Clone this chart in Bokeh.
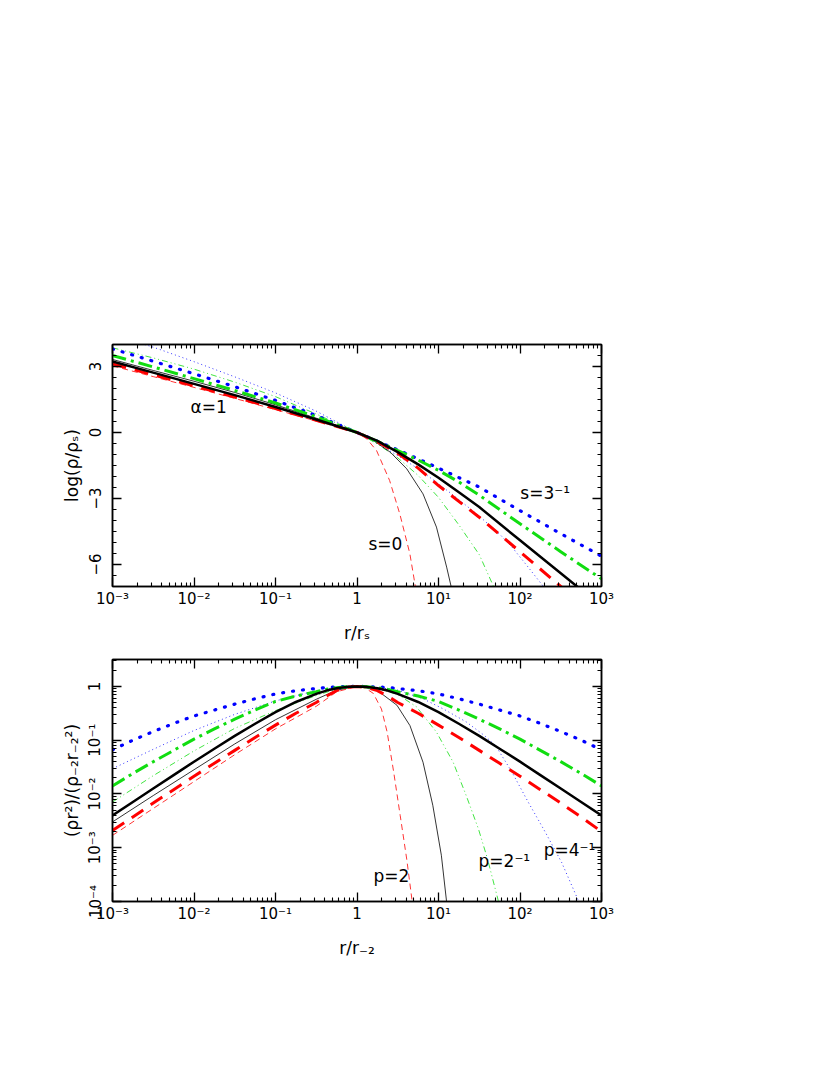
from bokeh.plotting import figure
from bokeh.models import LinearAxis, LogAxis, FixedTicker, CustomJSTickFormatter, ColumnDataSource
from bokeh.layouts import column
from bokeh.embed import file_html
from bokeh.resources import INLINE
from bokeh.core.properties import value

FONT = "DejaVu Sans"

# ---------------- data: top panel  (log10 r/rs , log10 rho/rhos) ----------------
top_black_thick_lx = [-3, -2.5, -2, -1.5, -1, -0.5, 0, 0.25, 0.5, 0.75, 1, 1.25, 1.5, 2, 2.5, 2.8]
top_black_thick_y = [3.23, 2.72, 2.21, 1.70, 1.16, 0.59, 0, -0.38, -0.89, -1.45, -2.06, -2.72, -3.39, -4.9, -6.4, -7.3]
top_red_thick_lx = [-3, -2.5, -2, -1.5, -1, -0.5, 0, 0.25, 0.5, 0.75, 1, 1.5, 2, 2.5, 2.6]
top_red_thick_y = [3.12, 2.62, 2.12, 1.61, 1.09, 0.55, 0, -0.42, -0.94, -1.62, -2.41, -3.85, -5.42, -7.0, -7.32]
top_green_thick_lx = [-3, -2.5, -2, -1.5, -1, -0.5, 0, 0.25, 0.5, 0.75, 1, 1.25, 1.5, 2, 2.5, 3]
top_green_thick_y = [3.5, 2.98, 2.45, 1.91, 1.34, 0.71, 0, -0.4, -0.82, -1.25, -1.72, -2.25, -2.85, -4.15, -5.42, -6.65]
top_blue_thick_lx = [-3, -2.5, -2, -1.5, -1, -0.5, 0, 0.25, 0.5, 0.75, 1, 1.5, 2, 2.5, 3]
top_blue_thick_y = [3.8, 3.24, 2.67, 2.08, 1.46, 0.77, 0, -0.4, -0.79, -1.2, -1.62, -2.48, -3.55, -4.6, -5.62]

top_black_thin_lx = [-3, -2.5, -2, -1.5, -1, -0.5, 0, 0.2, 0.41, 0.61, 0.81, 0.975, 1.1, 1.18]
top_black_thin_y = [3.32, 2.82, 2.33, 1.82, 1.26, 0.65, 0, -0.36, -0.9, -1.65, -2.79, -4.3, -6.12, -7.4]
top_red_thin_lx = [-3, -2.5, -2, -1.5, -1, -0.5, 0, 0.12, 0.24, 0.4, 0.525, 0.648, 0.73]
top_red_thin_y = [3.03, 2.54, 2.05, 1.55, 1.04, 0.52, 0, -0.29, -0.82, -2.18, -3.7, -5.5, -7.3]
top_green_thin_lx = [-3, -2.5, -2, -1.5, -1, -0.5, 0, 0.25, 0.5, 0.75, 1, 1.25, 1.5, 1.7]
top_green_thin_y = [3.85, 3.39, 2.88, 2.29, 1.63, 0.84, 0, -0.52, -1.15, -1.95, -2.95, -4.2, -5.55, -7.2]
top_blue_thin_lx = [-2.7, -2.5, -2, -1.5, -1, -0.5, 0, 0.25, 0.5, 0.75, 1, 1.25, 1.5, 1.75, 1.9, 2.1, 2.33]
top_blue_thin_y = [4.1, 3.88, 3.22, 2.53, 1.80, 0.97, 0, -0.5, -1.05, -1.65, -2.33, -3.05, -3.8, -4.62, -5.2, -6.12, -7.2]

# ---------------- data: bottom panel  (log10 r/r-2 , log10 rho r^2 / rho-2 r-2^2) ----------------
bot_thick_lx = [-3, -2.75, -2.5, -2.25, -2, -1.75, -1.5, -1.25, -1, -0.75, -0.5, -0.375, -0.25, -0.125, 0,
                0.125, 0.25, 0.375, 0.5, 0.75, 1, 1.25, 1.5, 1.75, 2, 2.25, 2.5, 2.75, 3]
bot_blue_thick_ly = [-1.18, -1.0, -0.84, -0.69, -0.55, -0.44, -0.33, -0.23, -0.14, -0.08, -0.04, -0.02, -0.01, -0.003, 0,
                     -0.003, -0.01, -0.02, -0.04, -0.08, -0.14, -0.23, -0.33, -0.44, -0.55, -0.69, -0.84, -1.0, -1.18]
bot_green_thick_ly = [-1.85, -1.62, -1.40, -1.19, -0.98, -0.79, -0.61, -0.44, -0.28, -0.18, -0.1, -0.055, -0.025, -0.006, 0,
                      -0.006, -0.025, -0.055, -0.1, -0.18, -0.28, -0.44, -0.61, -0.79, -0.98, -1.19, -1.40, -1.62, -1.85]
bot_black_thick_ly = [-2.40, -2.15, -1.90, -1.65, -1.40, -1.16, -0.92, -0.695, -0.48, -0.29, -0.14, -0.078, -0.034, -0.009, 0,
                      -0.009, -0.034, -0.078, -0.14, -0.29, -0.48, -0.695, -0.92, -1.16, -1.40, -1.65, -1.90, -2.15, -2.40]
bot_red_thick_ly = [-2.68, -2.43, -2.17, -1.92, -1.67, -1.43, -1.19, -0.95, -0.72, -0.5, -0.3, -0.18, -0.08, -0.02, 0,
                    -0.02, -0.08, -0.18, -0.3, -0.5, -0.72, -0.95, -1.19, -1.43, -1.67, -1.92, -2.17, -2.43, -2.70]

bot_blue_thin_lx = [-3, -2.5, -2, -1.5, -1, -0.5, -0.25, 0, 0.25, 0.5, 0.81, 1.06, 1.34, 1.56, 1.7, 1.9, 2.1, 2.31, 2.51, 2.75]
bot_blue_thin_ly = [-1.53, -1.17, -0.82, -0.52, -0.27, -0.08, -0.02, 0, -0.02, -0.07, -0.23, -0.42, -0.66, -0.91, -1.10, -1.59, -2.15, -2.71, -3.27, -4.1]
bot_green_thin_lx = [-3, -2.5, -2, -1.5, -1, -0.5, -0.25, 0, 0.25, 0.5, 0.73, 0.975, 1.18, 1.34, 1.49, 1.6, 1.77]
bot_green_thin_ly = [-2.15, -1.66, -1.20, -0.78, -0.45, -0.17, -0.05, 0, -0.04, -0.15, -0.38, -0.85, -1.41, -2.03, -2.65, -3.2, -4.2]
bot_black_thin_lx = [-3, -2.5, -2, -1.5, -1, -0.5, -0.25, 0, 0.245, 0.49, 0.65, 0.81, 0.93, 1.035, 1.11]
bot_black_thin_ly = [-2.52, -2.03, -1.55, -1.07, -0.62, -0.24, -0.07, 0, -0.07, -0.35, -0.73, -1.41, -2.21, -3.14, -4.15]
bot_red_thin_lx = [-3, -2.5, -2, -1.5, -1, -0.5, -0.25, 0, 0.1, 0.2, 0.3, 0.37, 0.45, 0.53, 0.61, 0.69]
bot_red_thin_ly = [-2.77, -2.27, -1.77, -1.27, -0.79, -0.37, -0.1, 0, -0.03, -0.13, -0.42, -0.85, -1.59, -2.40, -3.21, -4.15]

# ---------------- ticks / labels ----------------
x_major = [1e-3, 1e-2, 1e-1, 1, 1e1, 1e2, 1e3]
x_labels = ["10\u207b\u00b3", "10\u207b\u00b2", "10\u207b\u00b9", "1", "10\u00b9", "10\u00b2", "10\u00b3"]
top_y_major = [-6, -3, 0, 3]
top_y_labels = ["\u22126", "\u22123", "0", "3"]
bot_y_major = [1e-4, 1e-3, 1e-2, 1e-1, 1]
bot_y_labels = ["10\u207b\u2074", "10\u207b\u00b3", "10\u207b\u00b2", "10\u207b\u00b9", "1"]

top_notes = ["\u03b1=1", "s=0", "s=3\u207b\u00b9"]
top_notes_x = [0.00906, 1.38, 101]
top_notes_y = [1.14, -5.05, -2.77]
bot_notes = ["p=2", "p=2\u207b\u00b9", "p=4\u207b\u00b9"]
bot_notes_x = [1.59, 31, 195]
bot_notes_y = [3.0e-4, 5.75e-4, 8.9e-4]

RED = "#ff0000"
GREEN = "#11dd11"
BLUE = "#0000ff"
BLACK = "#000000"


def log_minor(lo_exp, hi_exp, top=None):
    out = []
    for e in range(lo_exp, hi_exp):
        for k in range(2, 10):
            v = k * 10.0 ** e
            if top is None or v <= top:
                out.append(v)
    return out


def style_axis(ax, fs="15px"):
    ax.axis_line_width = 1.5
    ax.major_tick_line_width = 1.3
    ax.minor_tick_line_width = 1.1
    ax.major_tick_in = 9
    ax.major_tick_out = 0
    ax.minor_tick_in = 4
    ax.minor_tick_out = 0
    ax.major_label_text_font = FONT
    ax.major_label_text_font_size = fs
    ax.major_label_text_color = "black"
    ax.axis_label_text_font = FONT
    ax.axis_label_text_font_size = "17px"
    ax.axis_label_text_font_style = "normal"
    ax.axis_label_text_color = "black"


blank = CustomJSTickFormatter(code="return '';")

x_ticker = FixedTicker(ticks=x_major, minor_ticks=log_minor(-3, 3))
x_fmt = CustomJSTickFormatter(args=dict(labels=x_labels),
                              code="return labels[Math.round(Math.log10(tick)) + 3];")


def make_fig(top_border, bottom_border, y_type, y_range):
    p = figure(x_axis_type="log", y_axis_type=y_type, x_range=(1e-3, 1e3), y_range=y_range,
               frame_width=489, frame_height=242,
               min_border_left=112, min_border_right=20,
               min_border_top=top_border, min_border_bottom=bottom_border,
               output_backend="svg", toolbar_location=None)
    p.grid.visible = False
    p.outline_line_color = "black"
    p.outline_line_width = 1.5
    p.background_fill_color = "white"
    p.border_fill_color = "white"
    return p


def add_line(p, xs, ys, color, width, dash="solid", cap="butt"):
    src = ColumnDataSource(dict(x=xs, y=ys))
    p.line("x", "y", source=src, line_color=color, line_width=width,
           line_dash=dash, line_cap=cap, line_join="round")


# ======================= TOP PANEL =======================
p1 = make_fig(344, 63, "linear", (-7, 4))
top_y_ticker = FixedTicker(ticks=top_y_major, minor_ticks=[v * 0.5 for v in range(-14, 9)])
top_y_fmt = CustomJSTickFormatter(args=dict(labels=top_y_labels, tvals=top_y_major),
                                  code="const i = tvals.indexOf(Math.round(tick)); return i >= 0 ? labels[i] : '';")

p1.xaxis.ticker = x_ticker
p1.xaxis.formatter = x_fmt
p1.xaxis.axis_label = "r/r\u209b"
p1.xaxis.major_label_standoff = 3
p1.xaxis.axis_label_standoff = 12
style_axis(p1.xaxis[0])
p1.yaxis.ticker = top_y_ticker
p1.yaxis.formatter = top_y_fmt
p1.yaxis.axis_label = "log(\u03c1/\u03c1\u209b)"
p1.yaxis.major_label_orientation = "vertical"
p1.yaxis.major_label_standoff = 12
p1.yaxis.axis_label_standoff = 4
style_axis(p1.yaxis[0])

ax = LogAxis(ticker=x_ticker, formatter=blank)
style_axis(ax)
p1.add_layout(ax, "above")
ax = LinearAxis(ticker=top_y_ticker, formatter=blank)
style_axis(ax)
p1.add_layout(ax, "right")

# thin curves
add_line(p1, [10 ** v for v in top_blue_thin_lx], top_blue_thin_y, BLUE, 0.8, "1 3")
add_line(p1, [10 ** v for v in top_green_thin_lx], top_green_thin_y, GREEN, 0.8, "6 3 1 3 1 3")
add_line(p1, [10 ** v for v in top_black_thin_lx], top_black_thin_y, BLACK, 0.8)
add_line(p1, [10 ** v for v in top_red_thin_lx], top_red_thin_y, RED, 0.8, "6 4")
# thick curves
add_line(p1, [10 ** v for v in top_blue_thick_lx], top_blue_thick_y, BLUE, 3.2, "1 9", "round")
add_line(p1, [10 ** v for v in top_green_thick_lx], top_green_thick_y, GREEN, 3, "14 5 3 5")
add_line(p1, [10 ** v for v in top_red_thick_lx], top_red_thick_y, RED, 3, "14 9")
add_line(p1, [10 ** v for v in top_black_thick_lx], top_black_thick_y, BLACK, 2.5)

p1.text(x=top_notes_x, y=top_notes_y, text=top_notes, text_font=value(FONT),
        text_font_size="17px", text_align="left", text_baseline="middle", text_color="black")

# ======================= BOTTOM PANEL =======================
p2 = make_fig(10, 70, "log", (1e-4, 10 ** 0.5))
bot_y_ticker = FixedTicker(ticks=bot_y_major, minor_ticks=log_minor(-4, 1, top=3.0))
bot_y_fmt = CustomJSTickFormatter(args=dict(labels=bot_y_labels),
                                  code="return labels[Math.round(Math.log10(tick)) + 4];")

p2.xaxis.ticker = x_ticker
p2.xaxis.formatter = x_fmt
p2.xaxis.axis_label = "r/r\u208b\u2082"
p2.xaxis.major_label_standoff = 3
p2.xaxis.axis_label_standoff = 12
style_axis(p2.xaxis[0])
p2.yaxis.ticker = bot_y_ticker
p2.yaxis.formatter = bot_y_fmt
p2.yaxis.axis_label = "(\u03c1r\u00b2)/(\u03c1\u208b\u2082r\u208b\u2082\u00b2)"
p2.yaxis.major_label_orientation = "vertical"
p2.yaxis.major_label_standoff = 8
p2.yaxis.axis_label_standoff = 2
style_axis(p2.yaxis[0])

ax = LogAxis(ticker=x_ticker, formatter=blank)
style_axis(ax)
p2.add_layout(ax, "above")
ax = LogAxis(ticker=bot_y_ticker, formatter=blank)
style_axis(ax)
p2.add_layout(ax, "right")


def b(lx, ly):
    return [10 ** v for v in lx], [10 ** v for v in ly]


add_line(p2, *b(bot_blue_thin_lx, bot_blue_thin_ly), BLUE, 0.8, "1 3")
add_line(p2, *b(bot_green_thin_lx, bot_green_thin_ly), GREEN, 0.8, "6 3 1 3 1 3")
add_line(p2, *b(bot_black_thin_lx, bot_black_thin_ly), BLACK, 0.8)
add_line(p2, *b(bot_red_thin_lx, bot_red_thin_ly), RED, 0.8, "6 4")
add_line(p2, *b(bot_thick_lx, bot_blue_thick_ly), BLUE, 3.2, "1 9", "round")
add_line(p2, *b(bot_thick_lx, bot_green_thick_ly), GREEN, 3, "14 5 3 5")
add_line(p2, *b(bot_thick_lx, bot_red_thick_ly), RED, 3, "14 9")
add_line(p2, *b(bot_thick_lx, bot_black_thick_ly), BLACK, 2.5)

p2.text(x=bot_notes_x, y=bot_notes_y, text=bot_notes, text_font=value(FONT),
        text_font_size="17px", text_align="left", text_baseline="middle", text_color="black")

layout = column(p1, p2, spacing=0)
open("out.html", "w").write(file_html(layout, INLINE))
